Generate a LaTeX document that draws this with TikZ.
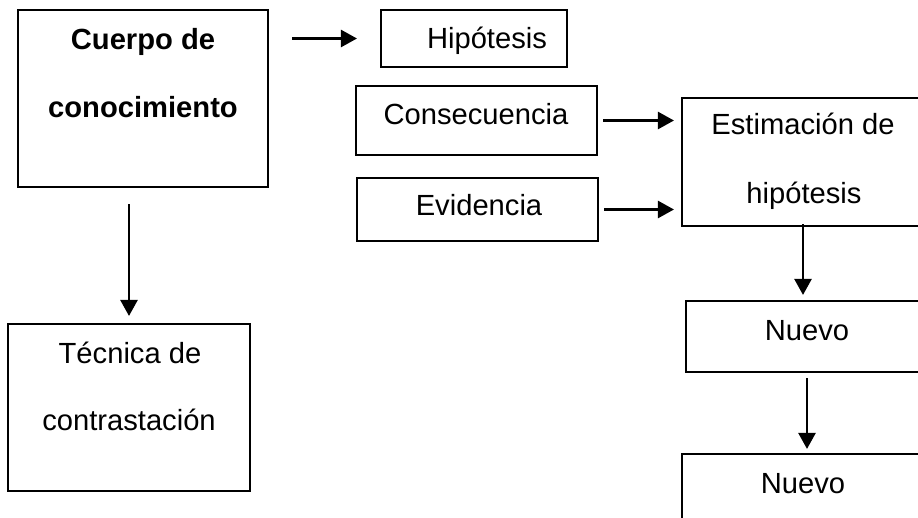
\documentclass[tikz,border=0pt]{standalone}
\usepackage{fontspec}
\setmainfont{Liberation Sans}
\usetikzlibrary{arrows.meta,fit}

\begin{document}
\begin{tikzpicture}[x=0.02cm,y=-0.02cm,
    caja/.style={draw,line width=1.2pt,inner sep=0pt},
    texto/.style={anchor=base,inner sep=0pt,font=\fontsize{16.6}{19}\selectfont},
    flecha/.style={line width=1.4pt,-{Triangle[length=0.32cm,width=0.34cm]}}]

\clip (0,0) rectangle (918,517);

% Cajas
\node[caja,fit={(18,10) (268,187)}] (cuerpo) {};
\node[caja,fit={(381,10) (567,67)}] (hipo) {};
\node[caja,fit={(356,86) (597,155)}] (consec) {};
\node[caja,fit={(357,178) (598,241)}] (evid) {};
\node[caja,fit={(682,98) (924,226)}] (estim) {};
\node[caja,fit={(8,324) (250,491)}] (tecnica) {};
\node[caja,fit={(686,301) (928,372)}] (nuevoA) {};
\node[caja,fit={(682,454) (924,560)}] (nuevoB) {};

% Textos
\node[texto,font=\fontsize{16.6}{19}\selectfont\bfseries] (t1) at (143,50) {Cuerpo de};
\node[texto,font=\fontsize{16.6}{19}\selectfont\bfseries] (t2) at (143,117) {conocimiento};
\node[texto] (t3) at (487,49) {Hipótesis};
\node[texto] (t4) at (476,124) {Consecuencia};
\node[texto] (t5) at (479,215) {Evidencia};
\node[texto] (t6) at (803,134) {Estimación de};
\node[texto] (t7) at (804,203) {hipótesis};
\node[texto] (t8) at (130,363) {Técnica de};
\node[texto] (t9) at (129,430) {contrastación};
\node[texto] (t10) at (807,340) {Nuevo};
\node[texto] (t11) at (803,493) {Nuevo};

% Flechas
\draw[flecha,shorten <=0.46cm,shorten >=0.46cm] (cuerpo.east |- hipo.west) -- (hipo.west);
\draw[flecha,shorten <=0.1cm,shorten >=0.14cm] (consec.east) -- (consec.east -| estim.west);
\draw[flecha,shorten <=0.1cm,shorten >=0.14cm] (evid.east) -- (evid.east -| estim.west);
\draw[flecha,shorten <=0.32cm,shorten >=0.14cm] (cuerpo.south -| tecnica.north) -- (tecnica.north);
\draw[flecha,shorten <=-0.06cm,shorten >=0.1cm] (estim.south) -- (estim.south |- nuevoA.north);
\draw[flecha,shorten <=0.1cm,shorten >=0.08cm] (nuevoA.south) -- (nuevoA.south |- nuevoB.north);

\end{tikzpicture}
\end{document}
